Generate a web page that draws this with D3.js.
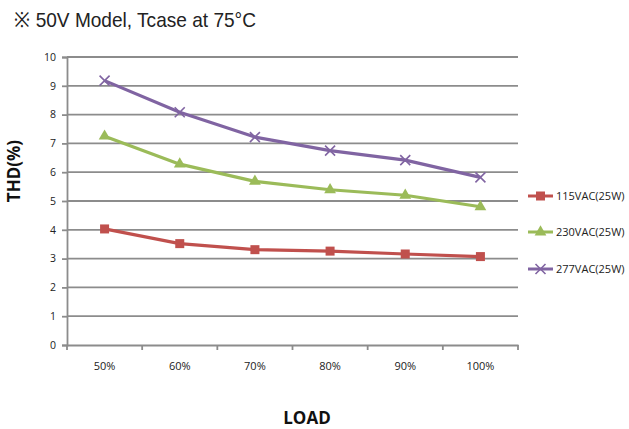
<!DOCTYPE html>
<html><head><meta charset="utf-8">
<script src="https://cdn.jsdelivr.net/npm/d3@7/dist/d3.min.js"></script>
<style>body{margin:0;background:#fff}</style>
</head><body>
<svg id="c" width="629" height="429"></svg>
<script>
const categories = ["50%","60%","70%","80%","90%","100%"];
const yTicks = [0,1,2,3,4,5,6,7,8,9,10];
const s115 = [4.03,3.52,3.31,3.26,3.16,3.07];
const s230 = [7.25,6.28,5.68,5.39,5.2,4.8];
const s277 = [9.18,8.08,7.22,6.75,6.42,5.82];
const seriesNames = ["115VAC(25W)","230VAC(25W)","277VAC(25W)"];
const titleText = "※ 50V Model, Tcase at 75°C";

const series = [
  {name: seriesNames[0], values: s115, color: "#C0504D", marker: "square"},
  {name: seriesNames[1], values: s230, color: "#9BBB59", marker: "triangle"},
  {name: seriesNames[2], values: s277, color: "#8064A2", marker: "x"}
];

const svg = d3.select("#c");
const L = 67, R = 518, T = 57, B = 345;
const x = d3.scaleBand().domain(categories).range([L, R]);
const y = d3.scaleLinear().domain([0, 10]).range([B, T]);
const font = "'Open Sans', 'DejaVu Sans', sans-serif";

svg.append("text").attr("x", 14).attr("y", 27)
  .attr("font-family", "'Liberation Sans Narrow','Liberation Sans',Arial,sans-serif")
  .attr("font-size", 21).attr("fill", "#222")
  .attr("textLength", 242).attr("lengthAdjust", "spacingAndGlyphs").text(titleText);

// gridlines
svg.append("g").selectAll("line").data(yTicks.filter(d => d > 0)).join("line")
  .attr("x1", L).attr("x2", R).attr("y1", d => y(d)).attr("y2", d => y(d))
  .attr("stroke", "#8c8c8c").attr("stroke-width", 1.8);

// y axis
const ya = svg.append("g").attr("transform", `translate(${L},0)`)
  .call(d3.axisLeft(y).tickValues(yTicks).tickSize(5).tickPadding(6));
ya.select(".domain").attr("stroke", "#8c8c8c").attr("stroke-width", 1.8);
ya.selectAll(".tick line").attr("stroke", "#8c8c8c").attr("stroke-width", 1.8);
ya.selectAll("text").attr("font-family", font).attr("font-size", 10.5).attr("fill", "#222");

// x axis
const xa = svg.append("g").attr("transform", `translate(0,${B})`)
  .call(d3.axisBottom(x).tickSize(0).tickPadding(17));
xa.select(".domain").attr("stroke", "#8c8c8c").attr("stroke-width", 1.8);
xa.selectAll(".tick line").remove();
xa.selectAll("text").attr("font-family", font).attr("font-size", 11).attr("fill", "#222");
const bounds = categories.map(c => x(c)).concat([R]);
xa.append("g").selectAll("line").data(bounds).join("line")
  .attr("x1", d => d).attr("x2", d => d).attr("y1", 0).attr("y2", 5)
  .attr("stroke", "#8c8c8c").attr("stroke-width", 1.8);

const cx = d => x(d) + x.bandwidth() / 2;

function drawMarker(g, type, color, px, py) {
  if (type === "square") {
    g.append("rect").attr("x", px - 4.5).attr("y", py - 4.5).attr("width", 9).attr("height", 9)
      .attr("fill", color);
  } else if (type === "triangle") {
    g.append("path").attr("d", d3.symbol().type(d3.symbolTriangle).size(60)())
      .attr("transform", `translate(${px},${py})`).attr("fill", color);
  } else {
    g.append("path").attr("d", `M${px-5},${py-5}L${px+5},${py+5}M${px-5},${py+5}L${px+5},${py-5}`)
      .attr("stroke", color).attr("stroke-width", 1.6).attr("fill", "none");
  }
}

const line = d3.line().x((d, i) => cx(categories[i])).y(d => y(d));
series.forEach(s => {
  const g = svg.append("g");
  g.append("path").datum(s.values).attr("d", line).attr("fill", "none")
    .attr("stroke", s.color).attr("stroke-width", 3.2).attr("stroke-linejoin", "round");
  s.values.forEach((v, i) => drawMarker(g, s.marker, s.color, cx(categories[i]), y(v)));
});

// legend
const legY = [196, 232, 269];
series.forEach((s, i) => {
  const g = svg.append("g");
  const ly = legY[i];
  g.append("line").attr("x1", 528).attr("x2", 553).attr("y1", ly).attr("y2", ly)
    .attr("stroke", s.color).attr("stroke-width", 3);
  drawMarker(g, s.marker, s.color, 540.5, ly);
  g.append("text").attr("x", 556).attr("y", ly + 4).attr("font-family", font)
    .attr("font-size", 11).attr("fill", "#222").text(s.name);
});

// axis titles
svg.append("text").attr("transform", "translate(20,171) rotate(-90)")
  .attr("text-anchor", "middle").attr("font-family", font).attr("font-weight", "bold")
  .attr("font-size", 17).attr("fill", "#111").text("THD(%)");
svg.append("text").attr("x", 307).attr("y", 424).attr("text-anchor", "middle")
  .attr("font-family", font).attr("font-weight", "bold").attr("font-size", 17)
  .attr("fill", "#111").text("LOAD");
</script>
</body></html>
